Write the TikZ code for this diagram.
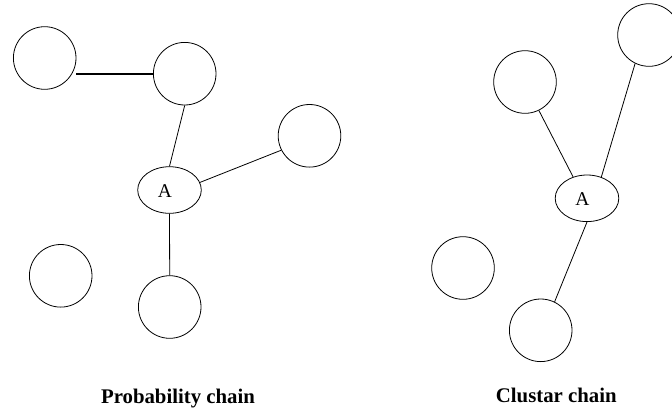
\documentclass[tikz,border=0pt]{standalone}
\usepackage{fontspec}
\setmainfont{Liberation Serif}
\usetikzlibrary{shapes.geometric}
\tikzset{
  blob/.style={circle, draw, line width=0.8pt, minimum size=62.6pt, inner sep=0pt},
  hub/.style={ellipse, draw, line width=0.8pt, minimum width=63.6pt, minimum height=46.6pt, inner sep=0pt},
  hubtext/.style={font=\fontsize{19.5}{22}\selectfont, inner sep=0pt},
  link/.style={line width=0.8pt},
  heavylink/.style={line width=1.9pt},
  caption/.style={font=\fontsize{20.8}{24}\selectfont\bfseries, anchor=base, inner sep=0pt}
}
\begin{document}
\begin{tikzpicture}[x=1pt,y=-1pt]
\useasboundingbox (0,0) rectangle (672,410);
\clip (0,0) rectangle (672,410);
% left diagram
\node[blob] (c1) at (44.7,58) {};
\node[blob] (c2) at (184.7,73.7) {};
\node[blob] (c3) at (309.5,135.8) {};
\node[hub] (A1) at (169.5,190) {};
\node[hubtext] (A1t) at ([xshift=-4.5pt,yshift=-1pt]A1.center) {A};
\node[blob] (c4) at (60.7,275.8) {};
\node[blob] (c5) at (169.7,307) {};
\draw[heavylink] (c1.east |- c2.west) -- (c2.west);
\draw[link] (c2.south) -- (A1.north);
\draw[link] (A1.14) -- (c3.207);
\draw[link] (A1.south) -- (c5.north);
\node[caption] (cap1) at (178,403) {Probability chain};
% right diagram
\node[blob] (d1) at (649,35) {};
\node[blob] (d2) at (525,82) {};
\node[hub] (A2) at (587,198.3) {};
\node[hubtext] (A2t) at ([xshift=-4.5pt,yshift=-1pt]A2.center) {A};
\node[blob] (d3) at (463,268) {};
\node[blob] (d4) at (540.7,330.3) {};
\draw[link] (d2.296) -- (A2.123);
\draw[link] (d1.244) -- (A2.56);
\draw[link] (A2.south) -- (d4.64);
\node[caption] (cap2) at (556.3,402.7) {Clustar chain};
\end{tikzpicture}
\end{document}
